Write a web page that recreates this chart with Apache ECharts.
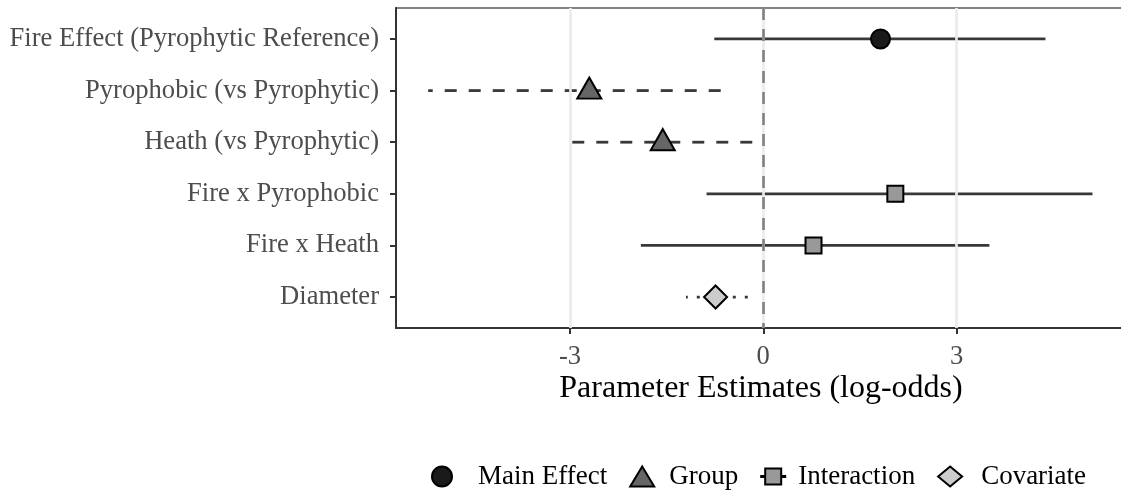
<!DOCTYPE html>
<html>
<head>
<meta charset="utf-8">
<script src="https://cdn.jsdelivr.net/npm/echarts@6/dist/echarts.min.js"></script>
<style>
  html, body { margin: 0; padding: 0; background: #ffffff; }
  #chart { width: 1121px; height: 494px; }
</style>
</head>
<body>
<div id="chart"></div>
<script>
// Model terms, top to bottom
const categories = [
  'Fire Effect (Pyrophytic Reference)',
  'Pyrophobic (vs Pyrophytic)',
  'Heath (vs Pyrophytic)',
  'Fire x Pyrophobic',
  'Fire x Heath',
  'Diameter'
];
// Point estimates and interval bounds (log-odds)
const estimates = [1.82, -2.70, -1.56, 2.05, 0.78, -0.74];
const lower     = [-0.76, -5.20, -3.01, -0.88, -1.90, -1.20];
const upper     = [4.38, -0.66, -0.17, 5.11, 3.51, -0.24];
// Effect type of each term
const effectTypes = ['Main Effect', 'Group', 'Group', 'Interaction', 'Interaction', 'Covariate'];
const typeNames = ['Main Effect', 'Group', 'Interaction', 'Covariate'];
const xTicks = [-3, 0, 3];

const FONT = "'Liberation Serif', 'Times New Roman', serif";

// Square key with short line stubs on both sides
const SQUARE_KEY = 'path://M0,9.4H4V2H20V9.4H24V10.6H20V18H4V10.6H0Z';

const typeStyle = {
  'Main Effect': { symbol: 'circle',   size: 19,       fill: '#1a1a1a', dash: 'solid', offset: [0, 0],    icon: 'circle' },
  'Group':       { symbol: 'triangle', size: [24, 21], fill: '#666666', dash: [12, 12], offset: [0, -2.5], icon: 'triangle' },
  'Interaction': { symbol: 'rect',     size: 16,       fill: '#999999', dash: 'solid', offset: [0, 0],    icon: SQUARE_KEY },
  'Covariate':   { symbol: 'diamond',  size: 23,       fill: '#cccccc', dash: [3, 9],  offset: [0, 0],    icon: 'diamond' }
};

const rowIndex = categories.map((_, i) => i);

const series = [];

// Background vertical grid lines
series.push({
  type: 'scatter',
  data: [],
  silent: true,
  z: 1,
  markLine: {
    silent: true,
    symbol: 'none',
    label: { show: false },
    lineStyle: { color: '#ebebeb', width: 2.7, type: 'solid' },
    data: xTicks.map(v => ({ xAxis: v }))
  }
});

// Interval lines, drawn from upper to lower bound
categories.forEach((name, i) => {
  const st = typeStyle[effectTypes[i]];
  series.push({
    type: 'line',
    name: name + ' interval',
    data: [[upper[i], i], [lower[i], i]],
    symbol: 'none',
    silent: true,
    z: 3,
    lineStyle: { color: '#383838', width: 2.8, type: st.dash, cap: 'butt' }
  });
});

// Zero reference line
series.push({
  type: 'scatter',
  data: [],
  silent: true,
  z: 4,
  markLine: {
    silent: true,
    symbol: 'none',
    label: { show: false },
    lineStyle: { color: '#808080', width: 2.6, type: [12, 9] },
    data: [{ xAxis: 0 }]
  }
});

// Point estimates, one series per effect type
typeNames.forEach(t => {
  const st = typeStyle[t];
  series.push({
    type: 'scatter',
    name: t,
    symbol: st.symbol,
    symbolSize: st.size,
    symbolOffset: st.offset,
    z: 6,
    itemStyle: { color: st.fill, borderColor: '#000000', borderWidth: 2, opacity: 1 },
    data: rowIndex.filter(i => effectTypes[i] === t).map(i => [estimates[i], i])
  });
});

// Legend label left padding and trailing space after each label
const legendPad = { 'Main Effect': 19, 'Group': 10, 'Interaction': 8, 'Covariate': 14 };
const legendTrail = { 'Main Effect': 0, 'Group': 0, 'Interaction': 5, 'Covariate': 0 };

const option = {
  animation: false,
  backgroundColor: '#ffffff',
  grid: {
    left: 396, top: 8, width: 730, bottom: 166,
    outerBoundsMode: 'none',
    containLabel: false,
    show: true, borderColor: '#5a5a5a', borderWidth: 1.5
  },
  xAxis: {
    type: 'value',
    min: -5.7,
    max: 5.63,
    name: 'Parameter Estimates (log-odds)',
    nameLocation: 'middle',
    nameGap: 45,
    nameMoveOverlap: false,
    nameTextStyle: { fontFamily: FONT, fontSize: 32, color: '#000000' },
    axisLine: { show: true, onZero: false, lineStyle: { color: '#333333', width: 2 } },
    axisTick: { show: true, customValues: xTicks, length: 6, lineStyle: { color: '#333333', width: 2 } },
    axisLabel: { customValues: xTicks, margin: 16, fontFamily: FONT, fontSize: 26.6, color: '#4d4d4d' },
    splitLine: { show: false }
  },
  yAxis: {
    type: 'value',
    inverse: true,
    min: -0.6,
    max: 5.6,
    axisLine: { show: true, onZero: false, lineStyle: { color: '#333333', width: 2 } },
    axisTick: { show: true, customValues: rowIndex, length: 6, lineStyle: { color: '#333333', width: 2 } },
    axisLabel: {
      customValues: rowIndex,
      formatter: v => categories[Math.round(v)],
      margin: 17, fontFamily: FONT, fontSize: 26.6, color: '#4d4d4d'
    },
    splitLine: { show: false }
  },
  legend: {
    left: 426,
    top: 458,
    itemWidth: 24,
    itemHeight: 20,
    itemGap: 22,
    formatter: name => legendTrail[name] ? name + '{gap|}' : name,
    textStyle: {
      fontFamily: FONT, fontSize: 27, color: '#000000',
      rich: { gap: { width: 5, fontSize: 27 } }
    },
    data: typeNames.map(t => ({
      name: t,
      icon: typeStyle[t].icon,
      textStyle: { padding: [0, 0, 0, legendPad[t]] }
    }))
  },
  series: series
};

const chart = echarts.init(document.getElementById('chart'), null, { renderer: 'canvas' });
chart.setOption(option);
</script>
</body>
</html>
